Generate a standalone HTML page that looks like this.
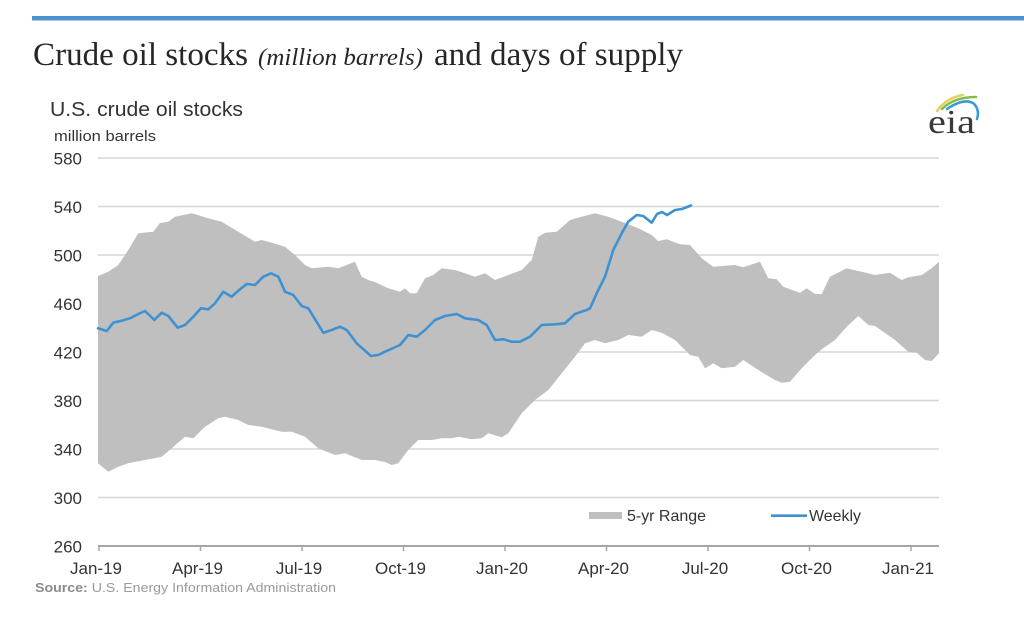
<!DOCTYPE html>
<html>
<head>
<meta charset="utf-8">
<style>
  html, body { margin: 0; padding: 0; background: #ffffff; }
  body { width: 1024px; height: 629px; overflow: hidden; }
  svg { display: block; }
</style>
</head>
<body>
<svg width="1024" height="629" viewBox="0 0 1024 629" xmlns="http://www.w3.org/2000/svg">
  <rect x="0" y="0" width="1024" height="629" fill="#ffffff"/>
  <!-- top blue bar -->
  <rect x="32" y="16" width="992" height="4.5" fill="#4d93cf"/>

  <!-- Title -->
  <g font-family="'Liberation Serif', serif" fill="#262626">
    <text x="33" y="65" font-size="33" textLength="215" lengthAdjust="spacingAndGlyphs">Crude oil stocks</text>
    <text x="258" y="65" font-size="24.5" font-style="italic" textLength="165" lengthAdjust="spacingAndGlyphs">(million barrels)</text>
    <text x="434" y="65" font-size="33" textLength="249" lengthAdjust="spacingAndGlyphs">and days of supply</text>
  </g>

  <!-- Chart title -->
  <text x="50" y="116" font-family="'Liberation Sans', sans-serif" font-size="20.5" fill="#333333" textLength="193" lengthAdjust="spacingAndGlyphs">U.S. crude oil stocks</text>
  <text x="54" y="141" font-family="'Liberation Sans', sans-serif" font-size="15" fill="#333333" textLength="102" lengthAdjust="spacingAndGlyphs">million barrels</text>

  <!-- eia logo -->
  <path d="M937,111 Q946,98 963,95" fill="none" stroke="#e2d25c" stroke-width="2.5" stroke-linecap="round"/>
  <path d="M942,109 Q954,97 976,97" fill="none" stroke="#86bb4c" stroke-width="2.5" stroke-linecap="round"/>
  <path d="M947,109 Q963,98 973,103 Q980,109 977,119" fill="none" stroke="#3a9ad9" stroke-width="2.5" stroke-linecap="round"/>
  <text x="928" y="133" font-family="'Liberation Serif', serif" font-size="34" fill="#3a3a3a" textLength="47" lengthAdjust="spacingAndGlyphs">eia</text>

  <!-- gridlines -->
  <g stroke="#d6d6d6" stroke-width="1.5">
    <line x1="98" y1="158" x2="939" y2="158"/>
    <line x1="98" y1="206.5" x2="939" y2="206.5"/>
    <line x1="98" y1="255" x2="939" y2="255"/>
    <line x1="98" y1="303.5" x2="939" y2="303.5"/>
    <line x1="98" y1="352" x2="939" y2="352"/>
    <line x1="98" y1="400.5" x2="939" y2="400.5"/>
    <line x1="98" y1="449" x2="939" y2="449"/>
    <line x1="98" y1="497.5" x2="939" y2="497.5"/>
  </g>

  <!-- Y labels -->
  <g font-family="'Liberation Sans', sans-serif" font-size="17" fill="#333333" text-anchor="end">
    <text x="82" y="164.5">580</text>
    <text x="82" y="213">540</text>
    <text x="82" y="261.5">500</text>
    <text x="82" y="310">460</text>
    <text x="82" y="358.5">420</text>
    <text x="82" y="407">380</text>
    <text x="82" y="455.5">340</text>
    <text x="82" y="504">300</text>
    <text x="82" y="552.5">260</text>
  </g>

  <!-- 5-yr range -->
  <path fill="#bfbfbf" d="M98,276 L108.3,271.7 L118.3,265 L128.3,250 L138.3,233.3 L153.3,231.7 L160,223 L168.3,221.7 L175,216.7 L191.7,213.3 L208.3,218.3 L221.7,221.7 L238.3,231.7 L255,241.7 L261.7,240 L268.3,241.7 L285,246.7 L295,255 L305,265 L311.7,268.3 L328.3,266.7 L338.3,268.3 L355,261.7 L361.7,276.7 L368.3,280 L375,282 L388.3,288.3 L400,291.7 L405,288.3 L410,293.3 L416.7,293.3 L425,278.3 L433.3,275 L441.7,268.3 L455,270 L465,273.3 L475,276.7 L485,273.3 L495,280 L508.3,275 L521.7,270 L531.7,260 L538.3,236.7 L545,232.7 L556.7,231.7 L570,220 L581.7,216.7 L595,213.3 L608.3,216.7 L621.7,221.7 L638.3,228.3 L651.7,235 L658,241 L666.7,239.3 L680,244.3 L690,245 L701.7,258.3 L713.3,266.7 L735,265 L743.3,267.3 L760,261.7 L768.3,278.3 L776.7,279.3 L783.3,286.7 L800,292.7 L806.7,288.3 L815,294 L821.7,294 L830,276.7 L846.7,268.3 L861.7,271.7 L875,275 L890,272.7 L901.7,280 L908.3,277.3 L921.7,275 L931.7,268.3 L939,261.7
  L939,353.3 L931.7,361 L925,360 L916.7,352.7 L908.3,351.7 L895,340 L875,326 L868.3,325 L858.3,316 L846.7,326.7 L835,340 L821.7,349.3 L815,355 L801.7,368.3 L790,381.7 L781.7,382.7 L775,380 L758.3,370 L743.3,360 L735,366.7 L721.7,368.3 L713.3,363.3 L705,368.3 L698.3,356.7 L690,355 L675,340 L661.7,332.7 L651.7,330 L641.7,336.7 L628.3,335 L618.3,340 L605,343.3 L595,340 L585,343.3 L575,356.7 L561.7,373.3 L548.3,390 L535,400 L521.7,413.3 L508.3,433.3 L501.7,437.3 L488.3,433.3 L481.7,438.3 L471.7,439.3 L458.3,436.7 L451.7,438.3 L441.7,438.3 L431.7,440 L418.3,440 L408.3,450 L398.3,463.3 L391.7,465 L385,462 L375,460 L361.7,460 L345,453.3 L335,455 L318.3,448.3 L305,436.7 L291.7,431.7 L281.7,431.7 L261.7,426.7 L248.3,425 L238.3,420 L225,416.7 L218.3,418.3 L205,426.7 L193.3,438.3 L185,436.7 L171.7,448.3 L161.7,456.7 L145,460 L128.3,463.3 L118.3,466.7 L108.3,471.7 L98,463.3 Z"/>

  <!-- Weekly -->
  <polyline fill="none" stroke="#3f92d2" stroke-width="2.6" stroke-linejoin="round" stroke-linecap="round" points="98,328.3 106.7,331 113.3,322.7 121.7,320.7 130,318.3 138.3,314 145,311 154.3,320 161.7,312.7 168.3,316 177.7,327.7 185,325 193.3,316.7 201,308.3 208.3,309.3 215,303.3 223.3,291.7 231.7,296.7 238.3,290.7 246.7,284 255,285 263.3,276.7 271,273.3 278.3,276.7 285,291.7 293.3,295 301.7,306 308.3,308.3 323.3,332.7 331.7,330 340,326.7 346.7,330 356.7,343.3 371,356 378.3,355 385,351.7 400,345 408.3,335 416.7,336.7 425,330 435,320 445,316 456.7,314 465,318.3 478.3,320 486.7,325 495,340 503.3,339.3 511.7,341.7 520,341.7 530,336.7 541.7,325 555,324.3 565,323.3 575,314 586.7,310 590,308.3 596.7,293.3 605,276.7 613.3,250 621.7,233.3 628.3,221.7 636.7,215 643.3,216 651.7,222.7 657,214 662,212 667,215 675,210 682,209 691,205.5"/>

  <!-- X axis -->
  <line x1="98" y1="546" x2="939" y2="546" stroke="#a6a6a6" stroke-width="2"/>
  <g stroke="#a6a6a6" stroke-width="1.5">
    <line x1="99" y1="546" x2="99" y2="551"/>
    <line x1="200.5" y1="546" x2="200.5" y2="551"/>
    <line x1="302" y1="546" x2="302" y2="551"/>
    <line x1="403.5" y1="546" x2="403.5" y2="551"/>
    <line x1="505" y1="546" x2="505" y2="551"/>
    <line x1="606.5" y1="546" x2="606.5" y2="551"/>
    <line x1="708" y1="546" x2="708" y2="551"/>
    <line x1="809.5" y1="546" x2="809.5" y2="551"/>
    <line x1="911" y1="546" x2="911" y2="551"/>
  </g>
  <g font-family="'Liberation Sans', sans-serif" font-size="17" fill="#333333" text-anchor="middle">
    <text x="96" y="574">Jan-19</text>
    <text x="197.5" y="574">Apr-19</text>
    <text x="299" y="574">Jul-19</text>
    <text x="400.5" y="574">Oct-19</text>
    <text x="502" y="574">Jan-20</text>
    <text x="603.5" y="574">Apr-20</text>
    <text x="705" y="574">Jul-20</text>
    <text x="806.5" y="574">Oct-20</text>
    <text x="908" y="574">Jan-21</text>
  </g>

  <!-- Legend -->
  <rect x="589" y="512" width="33" height="7" fill="#bfbfbf"/>
  <text x="627" y="521" font-family="'Liberation Sans', sans-serif" font-size="16" fill="#333333" textLength="79" lengthAdjust="spacingAndGlyphs">5-yr Range</text>
  <line x1="771" y1="515.7" x2="807" y2="515.7" stroke="#3f92d2" stroke-width="2.6"/>
  <text x="809" y="521" font-family="'Liberation Sans', sans-serif" font-size="16" fill="#333333" textLength="52" lengthAdjust="spacingAndGlyphs">Weekly</text>

  <!-- Source -->
  <text x="35" y="592" font-family="'Liberation Sans', sans-serif" font-size="13" fill="#9a9a9a" textLength="301" lengthAdjust="spacingAndGlyphs"><tspan font-weight="bold" fill="#8c8c8c">Source:</tspan> U.S. Energy Information Administration</text>
</svg>
</body>
</html>
